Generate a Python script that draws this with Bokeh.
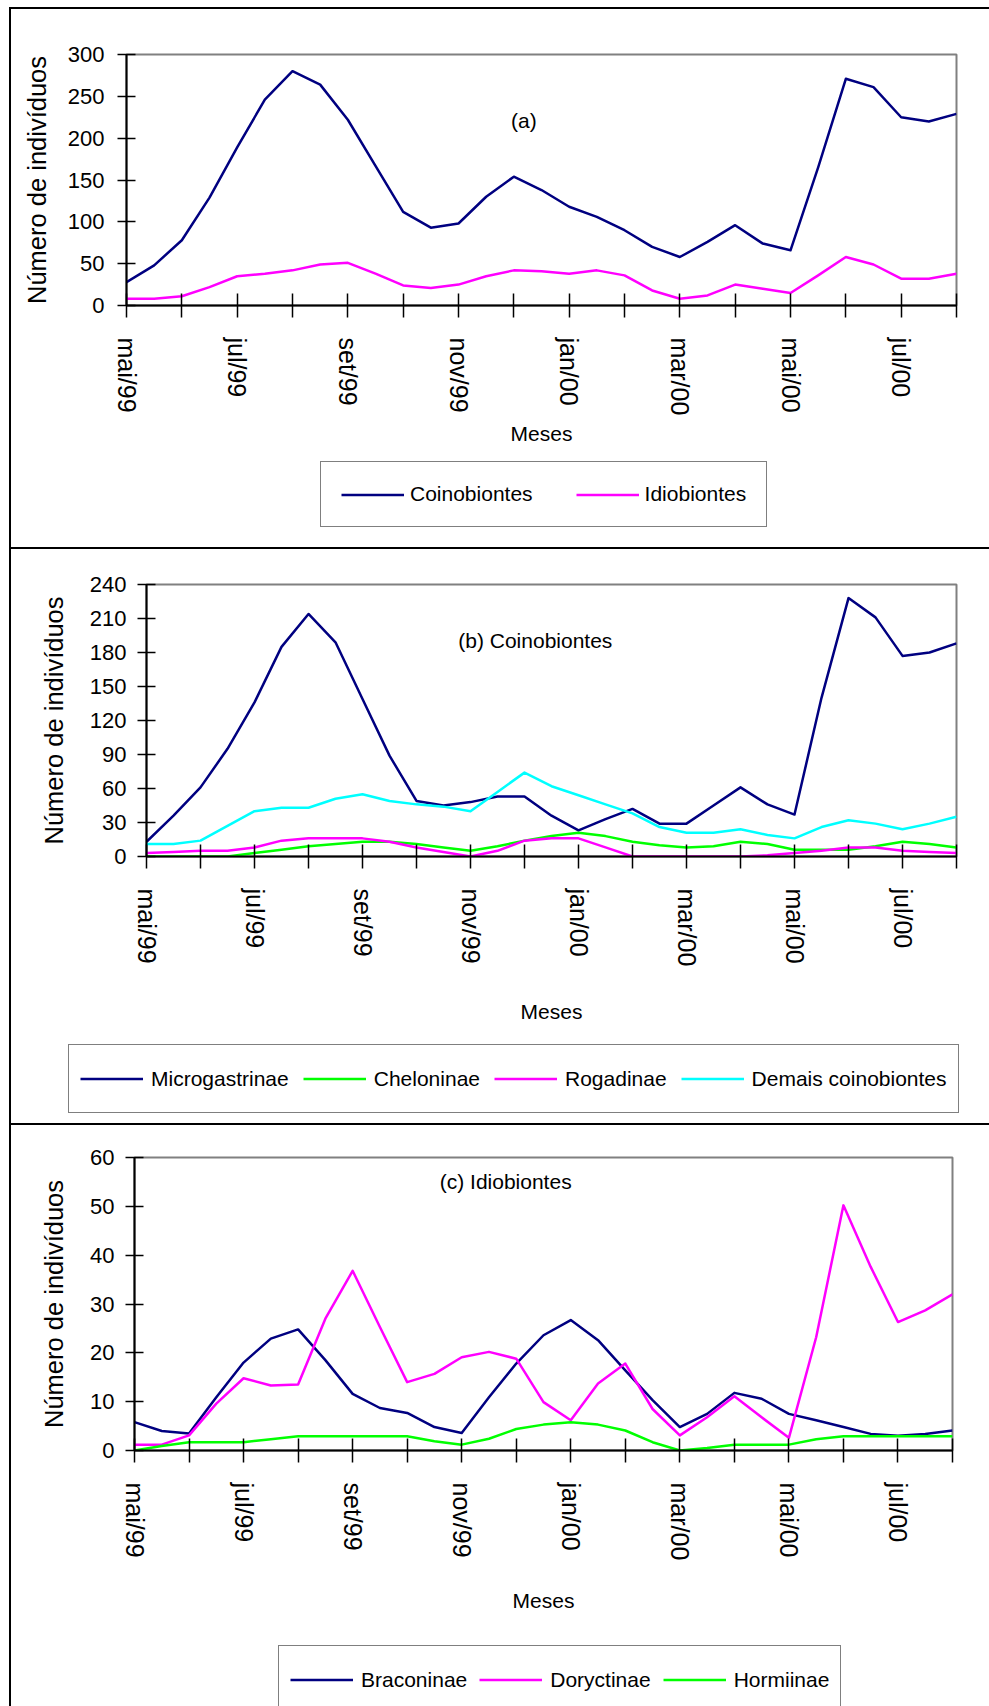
from bokeh.plotting import figure
from bokeh.models import Range1d, FixedTicker, Legend, LegendItem, Label, Div, Spacer
from bokeh.layouts import column, row
from bokeh.embed import file_html
from bokeh.resources import INLINE

# ---------------- data (semi-monthly samples, mai/99 .. ago/00) ----------------
samples = list(range(31))
months = ["mai/99", "jun/99", "jul/99", "ago/99", "set/99", "out/99", "nov/99", "dez/99",
          "jan/00", "fev/00", "mar/00", "abr/00", "mai/00", "jun/00", "jul/00", "ago/00"]

coinobiontes = [28, 48, 78, 129, 189, 246, 280, 264, 222, 167, 112, 93, 98, 130, 154, 138,
                118, 106, 90, 70, 58, 76, 96, 74, 66, 165, 271, 261, 225, 220, 229]
idiobiontes = [8, 8, 11, 22, 35, 38, 42, 49, 51, 38, 24, 21, 25, 35, 42, 41,
               38, 42, 36, 18, 8, 12, 25, 20, 15, 36, 58, 49, 32, 32, 38]

microgastrinae = [13, 36, 61, 95, 136, 185, 214, 189, 139, 89, 49, 45, 48, 53, 53, 36,
                  23, 33, 42, 29, 29, 45, 61, 46, 37, 140, 228, 211, 177, 180, 188]
cheloninae = [0, 0, 0, 0, 3, 6, 9, 11, 13, 13, 11, 8, 5, 9, 14, 18,
              21, 18, 13, 10, 8, 9, 13, 11, 6, 6, 6, 9, 13, 11, 8]
rogadinae = [3, 4, 5, 5, 8, 14, 16, 16, 16, 13, 8, 4, 0, 5, 14, 16,
             16, 8, 0, 0, 0, 0, 0, 1, 3, 5, 8, 8, 5, 4, 3]
demais = [11, 11, 14, 27, 40, 43, 43, 51, 55, 49, 46, 44, 40, 57, 74, 62,
          54, 46, 38, 26, 21, 21, 24, 19, 16, 26, 32, 29, 24, 29, 35]

braconinae = [5.8, 4.0, 3.5, 10.9, 18.0, 22.9, 24.8, 18.5, 11.6, 8.7, 7.7, 4.8, 3.6, 10.9, 17.8, 23.6,
              26.7, 22.6, 16.4, 10.3, 4.8, 7.5, 11.8, 10.6, 7.5, 6.2, 4.8, 3.4, 3.0, 3.4, 4.1]
doryctinae = [1.2, 1.2, 3.1, 9.6, 14.8, 13.3, 13.5, 27.0, 36.8, 25.3, 14.0, 15.7, 19.1, 20.2, 18.8, 9.9,
              6.2, 13.7, 17.8, 8.5, 3.1, 6.8, 11.1, 6.8, 2.6, 23.2, 50.2, 37.6, 26.3, 28.7, 32.0]
hormiinae = [0.0, 0.9, 1.7, 1.7, 1.7, 2.3, 2.9, 2.9, 2.9, 2.9, 2.9, 1.9, 1.2, 2.4, 4.4, 5.3,
             5.8, 5.3, 4.1, 1.7, 0.0, 0.5, 1.2, 1.2, 1.2, 2.3, 2.9, 2.9, 2.9, 2.9, 2.9]

# ---------------- styles ----------------
FONT = "Liberation Sans"
NAVY, MAGENTA, GREEN, CYAN = "#000080", "#FF00FF", "#00FF00", "#00FFFF"
W = 978

month_ticks = [2 * i for i in range(len(months))]
month_overrides = {2 * i: (m if i % 2 == 0 else "") for i, m in enumerate(months)}


def make_panel(h, ymax, ystep, borders, series, title, title_pos,
               ylab_standoff, xlab_standoff, ylab_lstandoff):
    left, right, top, bottom = borders
    p = figure(width=W, height=h, output_backend="svg", toolbar_location=None,
               x_range=Range1d(0, 30), y_range=Range1d(0, ymax),
               min_border_left=left, min_border_right=right,
               min_border_top=top, min_border_bottom=bottom,
               frame_align=False,
               background_fill_color="white", border_fill_color="white")
    p.outline_line_color = "#808080"
    p.outline_line_width = 2
    p.xgrid.visible = False
    p.ygrid.visible = False

    xa = p.xaxis[0]
    xa.ticker = FixedTicker(ticks=month_ticks)
    xa.major_label_overrides = month_overrides
    xa.major_label_orientation = "vertical"
    xa.major_tick_in = 12
    xa.major_tick_out = 12
    xa.minor_tick_line_color = None
    xa.axis_line_color = "black"
    xa.axis_line_width = 2
    xa.major_tick_line_color = "black"
    xa.major_tick_line_width = 1.5
    xa.major_label_text_font = FONT
    xa.major_label_text_font_size = "25px"
    xa.major_label_text_color = "black"
    xa.major_label_standoff = 20
    xa.axis_label = "Meses"
    xa.axis_label_text_font = FONT
    xa.axis_label_text_font_size = "21px"
    xa.axis_label_text_font_style = "normal"
    xa.axis_label_text_color = "black"
    xa.axis_label_standoff = xlab_standoff

    ya = p.yaxis[0]
    ya.ticker = FixedTicker(ticks=list(range(0, ymax + 1, ystep)))
    ya.major_tick_in = 9
    ya.major_tick_out = 9
    ya.minor_tick_line_color = None
    ya.axis_line_color = "black"
    ya.axis_line_width = 2
    ya.major_tick_line_color = "black"
    ya.major_tick_line_width = 1.5
    ya.major_label_text_font = FONT
    ya.major_label_text_font_size = "22px"
    ya.major_label_text_color = "black"
    ya.major_label_standoff = ylab_lstandoff
    ya.axis_label = "Número de indivíduos"
    ya.axis_label_text_font = FONT
    ya.axis_label_text_font_size = "25.5px"
    ya.axis_label_text_font_style = "normal"
    ya.axis_label_text_color = "black"
    ya.axis_label_standoff = ylab_standoff

    for name, vals, color in series:
        p.line(samples, vals, line_color=color, line_width=2.5, line_join="round")

    p.add_layout(Label(x=title_pos[0], y=title_pos[1], text=title, text_align="center",
                       text_baseline="middle", text_font=FONT, text_font_size="21px",
                       text_color="black"))
    return p


def make_legend(h, series, loc, opts):
    q = figure(width=W, height=h, output_backend="svg", toolbar_location=None,
               x_axis_type=None, y_axis_type=None, min_border=0, frame_align=False,
               x_range=Range1d(0, 30), y_range=Range1d(0, 1),
               background_fill_color="white", border_fill_color="white")
    q.outline_line_color = None
    items = []
    for name, vals, color in series:
        r = q.line(samples, vals, line_color=color, line_width=2.5, visible=False)
        items.append(LegendItem(label=name, renderers=[r]))
    leg = Legend(items=items, orientation="horizontal", location=loc,
                 border_line_color="black", border_line_width=1,
                 background_fill_color="white", background_fill_alpha=1.0,
                 inactive_fill_alpha=0.0,
                 label_text_font=FONT, label_text_font_size="21px",
                 label_text_color="black", glyph_width=63, margin=0, **opts)
    q.add_layout(leg, "center")
    return q


series_a = [("Coinobiontes", coinobiontes, NAVY), ("Idiobiontes", idiobiontes, MAGENTA)]
series_b = [("Microgastrinae", microgastrinae, NAVY), ("Cheloninae", cheloninae, GREEN),
            ("Rogadinae", rogadinae, MAGENTA), ("Demais coinobiontes", demais, CYAN)]
series_c = [("Braconinae", braconinae, NAVY), ("Doryctinae", doryctinae, MAGENTA),
            ("Hormiinae", hormiinae, GREEN)]

pa = make_panel(446, 300, 50, (115, 33, 45, 150), series_a, "(a)", (14.36, 221),
                ylab_standoff=14, xlab_standoff=4, ylab_lstandoff=13)
la = make_legend(92, series_a, (309, 20),
                 dict(padding=20, spacing=43, label_height=23, glyph_height=23, label_standoff=6))

pb = make_panel(486, 240, 30, (135, 33, 35, 179), series_b, "(b) Coinobiontes", (14.4, 191),
                ylab_standoff=19, xlab_standoff=31, ylab_lstandoff=11)
lb = make_legend(88, series_b, (57, 10),
                 dict(padding=11, spacing=14, label_height=45, glyph_height=45, label_standoff=8))

pc = make_panel(500, 60, 10, (123, 37, 32, 175), series_c, "(c)  Idiobiontes", (13.72, 55.1),
                ylab_standoff=19, xlab_standoff=26, ylab_lstandoff=11)
lc = make_legend(81, series_c, (267, -8),
                 dict(padding=11, spacing=12, label_height=45, glyph_height=45, label_standoff=8))


def hline(w):
    return Div(text="", width=w, height=2, margin=0, styles={"background-color": "black"})


inner = column(hline(W), pa, la, hline(W), pb, lb, hline(W), pc, lc, spacing=0, margin=0)
vline = Div(text="", width=2, height=1699, margin=0, styles={"background-color": "black"})
body = row(Spacer(width=9, height=1699, margin=0), vline, inner, spacing=0, margin=0)
layout = column(Spacer(width=989, height=7, margin=0), body, spacing=0, margin=0)

open("out.html", "w").write(file_html(layout, INLINE))
